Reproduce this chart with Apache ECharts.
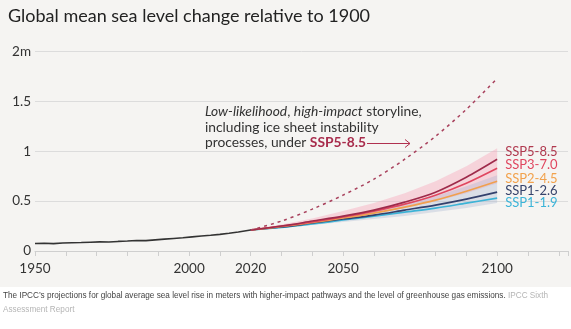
<!DOCTYPE html>
<html><head><meta charset="utf-8">
<script src="https://cdn.jsdelivr.net/npm/echarts@6/dist/echarts.min.js"></script>
<style>html,body{margin:0;padding:0;background:#fff}#c{width:571px;height:329px}</style>
</head><body><div id="c"></div>
<script>
// ---- data ----
const histYears = [1950,1953,1956,1959,1962,1965,1968,1971,1974,1977,1980,1983,1986,1989,1992,1995,1998,2001,2004,2007,2010,2013,2016,2020];
const histVals  = [0.075,0.077,0.074,0.080,0.083,0.085,0.088,0.091,0.090,0.096,0.100,0.106,0.104,0.112,0.119,0.126,0.133,0.142,0.150,0.158,0.167,0.178,0.190,0.210];

const projYears = [2020,2030,2040,2050,2060,2070,2080,2090,2100];
const ssp585 = [0.21,0.25,0.30,0.35,0.41,0.49,0.59,0.74,0.92];
const ssp370 = [0.21,0.25,0.29,0.34,0.40,0.47,0.56,0.68,0.83];
const ssp245 = [0.21,0.245,0.285,0.33,0.38,0.44,0.51,0.60,0.70];
const ssp126 = [0.21,0.24,0.28,0.32,0.36,0.41,0.46,0.52,0.59];
const ssp119 = [0.21,0.235,0.27,0.31,0.35,0.39,0.43,0.48,0.53];
const pinkLow  = [0.21,0.24,0.28,0.32,0.37,0.43,0.50,0.58,0.68];
const pinkHigh = [0.21,0.265,0.325,0.40,0.48,0.58,0.70,0.85,1.03];
const greyLow  = [0.21,0.23,0.26,0.29,0.32,0.35,0.39,0.43,0.48];
const greyHigh = [0.21,0.25,0.295,0.345,0.40,0.47,0.55,0.65,0.76];

const stormYears = [2020,2030,2040,2050,2060,2070,2080,2090,2100];
const stormVals  = [0.21,0.30,0.42,0.56,0.72,0.92,1.15,1.42,1.73];

const xLabels = [1950,2000,2020,2050,2100];
const yTicks = [0,0.5,1,1.5,2];

const sspNames = ['SSP5-8.5','SSP3-7.0','SSP2-4.5','SSP1-2.6','SSP1-1.9'];
const sspData = [ssp585, ssp370, ssp245, ssp126, ssp119];
const sspColors = ['#9e2b4b','#e0465f','#f0a04e','#33406c','#3cb3d6'];
const sspLabelColors = ['#b0394f','#e0465f','#f2a24c','#36436b','#3cb4d8'];
const sspLabelDy = [-7,-3.5,-2,-1,5];

// ---- build ----
const pair = (xs, ys) => xs.map((x,i)=>[x, ys[i]]);
const FONT = 'Lato, "Noto Sans", sans-serif';

const series = [];
function band(low, high, color){
  series.push({
    type:'custom', silent:true, z:1,
    data: projYears.map((y,i)=>[y, low[i], high[i]]),
    encode:{x:0, y:[1,2]},
    renderItem:(params, api)=>{
      if (params.dataIndex !== 0) return;
      const top = projYears.map((y,i)=>api.coord([y, high[i]]));
      const bot = projYears.map((y,i)=>api.coord([y, low[i]])).reverse();
      return {type:'polygon', shape:{points: top.concat(bot)}, style:{fill:color, stroke:null}};
    }
  });
}
band(pinkLow, pinkHigh, 'rgba(247,165,185,0.42)');
band(greyLow, greyHigh, 'rgba(165,178,205,0.33)');

for (let i = sspNames.length-1; i >= 0; i--) {
  series.push({
    type:'line', name:sspNames[i], data:pair(projYears, sspData[i]), symbol:'none', smooth:0.3,
    lineStyle:{color:sspColors[i], width:1.6}, z:3,
    endLabel:{show:true, formatter:sspNames[i], color:sspLabelColors[i], fontSize:13, fontFamily:FONT, distance:8, offset:[0, sspLabelDy[i]]}
  });
}
series.push({type:'line', name:'storyline', data:pair(stormYears, stormVals), symbol:'none', smooth:0.3,
  lineStyle:{color:'#a8405c', width:1.5, type:[3,4]}, z:4});
series.push({type:'line', name:'hist', data:pair(histYears, histVals), symbol:'none',
  lineStyle:{color:'#333', width:1.6}, z:5});

const chart = echarts.init(document.getElementById('c'), null, {renderer:'canvas'});
chart.setOption({
  backgroundColor:'#ffffff',
  animation:false,
  textStyle:{fontFamily:FONT},
  grid:{left:35, right:0, top:51.5, bottom:78, containLabel:false},
  xAxis:{type:'value', min:1950, max:2123, interval:10,
    axisLine:{show:true, lineStyle:{color:'#cfcfcf', width:1}},
    axisTick:{show:true, length:5, lineStyle:{color:'#cfcfcf'}},
    splitLine:{show:false},
    axisLabel:{interval:0, margin:11, fontSize:13.5, color:'#333', fontFamily:FONT,
      formatter:(v)=> xLabels.includes(v) ? String(v) : ''}
  },
  yAxis:{type:'value', min:0, max:2, interval:0.5,
    axisLine:{show:false}, axisTick:{show:false},
    splitLine:{lineStyle:{color:'#dcdcdc', width:1}},
    axisLabel:{margin:4, fontSize:13.5, color:'#333', fontFamily:FONT,
      formatter:(v)=> yTicks.includes(v) ? (v===2 ? '2m' : String(v)) : ''}
  },
  graphic:[
    {type:'rect', z:-10, silent:true, shape:{x:0,y:0,width:571,height:287}, style:{fill:'#f5f4f2'}},
    {type:'text', left:8, top:7, style:{text:'Global mean sea level change relative to 1900', font:'18px '+FONT, fill:'#222'}},
    {type:'text', left:205, top:105, z:10, style:{
      text:'{i|Low-likelihood}{n|, }{i|high-impact}{n| storyline,}\n{n|including ice sheet instability}\n{n|processes, under }{b|SSP5-8.5}',
      rich:{
        i:{fontStyle:'italic', fontSize:13.8, fontFamily:FONT, fill:'#333', lineHeight:15.5},
        n:{fontSize:13.8, fontFamily:FONT, fill:'#333', lineHeight:15.5},
        b:{fontWeight:'bold', fontSize:13.8, fontFamily:FONT, fill:'#a82c4c', lineHeight:15.5}
      }}},
    {type:'polyline', z:10, shape:{points:[[367,143.5],[410,143.5]]}, style:{stroke:'#b0304f', lineWidth:1, fill:null}},
    {type:'polyline', z:10, shape:{points:[[405,139.5],[410,143.5],[405,147.5]]}, style:{stroke:'#b0304f', lineWidth:1, fill:null}},
    {type:'text', left:3, top:292, style:{
      text:'{a|The IPCC\u2019s projections for global average sea level rise in meters with higher-impact pathways and the level of greenhouse gas emissions. }{g|IPCC Sixth}\n{g|Assessment Report}',
      rich:{
        a:{fontSize:8.2, fontFamily:'"Liberation Sans", Arial, sans-serif', fill:'#444', lineHeight:14},
        g:{fontSize:8.2, fontFamily:'"Liberation Sans", Arial, sans-serif', fill:'#b5b5b5', lineHeight:14}
      }}}
  ],
  series:series
});
</script>
</body></html>
